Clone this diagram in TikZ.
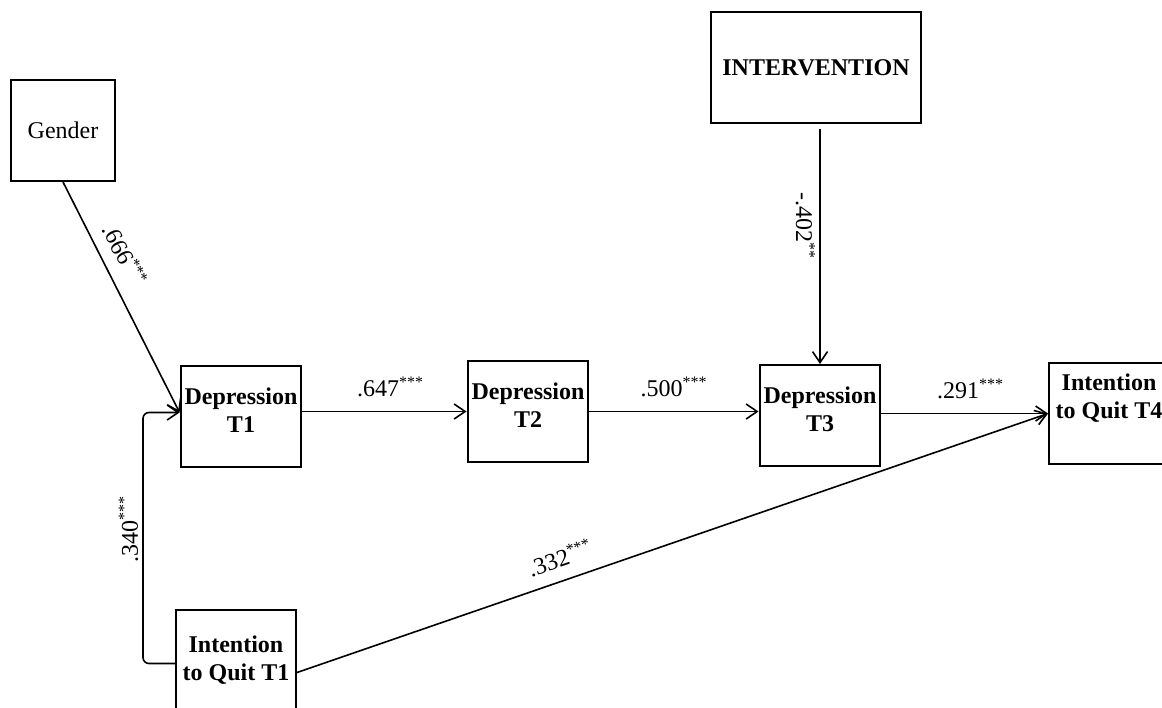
\documentclass[tikz,border=0pt]{standalone}
\usepackage{fontspec}
\setmainfont{Liberation Serif}
\usetikzlibrary{arrows.meta,positioning,calc}

\begin{document}
\begin{tikzpicture}[
    x=0.5pt, y=-0.5pt,
    >={Straight Barb[length=5.5pt,width=7.5pt]},
    varbox/.style={rectangle, draw, line width=1pt, minimum width=60pt, minimum height=50.5pt, inner sep=2pt, align=center, font=\fontsize{12}{14}\selectfont\bfseries},
    arrow/.style={->, line width=0.8pt},
    coef/.style={font=\fontsize{12}{14}\selectfont, inner sep=2pt},
]
\useasboundingbox (0,0) rectangle (1162,707);
\clip (0,0) rectangle (1162,707);

\node[varbox, font=\fontsize{12}{14}\selectfont, minimum width=52pt] (gender) at (63,130.5) {Gender};
\node[varbox, minimum width=105pt, minimum height=55.5pt] (interv) at (816,67.5) {INTERVENTION};
\node[varbox, text depth=6pt] (dep1) at (241,416.5) {Depression\\T1};
\node[varbox, text depth=6pt] (dep2) at (528,411.5) {Depression\\T2};
\node[varbox, minimum width=59pt, text depth=6pt] (dep3) at (820,415.5) {Depression\\T3};
\node[varbox] (iq1) at (236,660.5) {Intention\\to Quit T1};
\node[varbox, text depth=17pt] (iq4) at (1109,413.5) {Intention\\to Quit T4};

% paths along the chain
\draw[arrow] (gender.south) -- node[coef, sloped, above=4pt, pos=0.36] {.666\textsuperscript{***}} ([yshift=2pt]dep1.west);
\draw[arrow, rounded corners=3pt] ([yshift=-1.5pt]iq1.west) -- ++(-32,0) |- node[coef, rotate=90, above=2pt, pos=0.26] {.340\textsuperscript{***}} ([yshift=2pt]dep1.west);
\draw[arrow] (dep1.east |- dep2.west) -- node[coef, above=5pt, xshift=3pt] {.647\textsuperscript{***}} (dep2.west);
\draw[arrow] (dep2.east) -- node[coef, above=5pt] {.500\textsuperscript{***}} (dep2.east -| dep3.west);
\draw[arrow] (dep3.east |- iq4.west) -- node[coef, above=5pt, xshift=3pt] {.291\textsuperscript{***}} (iq4.west);
\draw[arrow, shorten <=2.5pt] (interv.south -| dep3.north) -- node[coef, rotate=-90, below=3pt, pos=0.4] {-.402\textsuperscript{**}} (dep3.north);
\draw[arrow] ([yshift=-6pt]iq1.east) -- node[coef, sloped, above=4pt, pos=0.36] {.332\textsuperscript{***}} (iq4.west);
\end{tikzpicture}
\end{document}
